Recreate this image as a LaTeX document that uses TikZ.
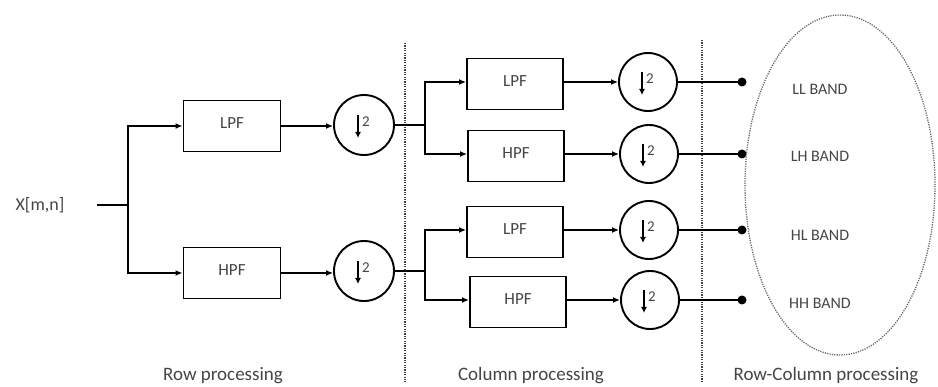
\documentclass[tikz,border=0pt]{standalone}
\usepackage{fontspec}
\setmainfont{Carlito}
\usetikzlibrary{arrows.meta,calc,shapes.geometric}
\definecolor{txt}{HTML}{454545}
\tikzset{
  wire/.style={line width=1.9pt,black},
  arr/.style={wire,-{Latex[length=7pt,width=6pt]}},
  filt/.style={draw,line width=1.9pt,minimum width=96pt,minimum height=51pt,inner sep=0pt,
    text=txt,font=\fontsize{17}{20}\selectfont,anchor=center},
  dec/.style={draw,circle,line width=1.9pt,minimum size=58pt,inner sep=0pt},
  lbl/.style={text=txt,font=\fontsize{19}{22}\selectfont,inner sep=0pt},
  bandlbl/.style={text=txt,font=\fontsize{16}{19}\selectfont,inner sep=0pt},
  sep/.style={line width=1.3pt,dash pattern=on 1.2pt off 1.2pt,black!75},
  outdot/.style={circle,fill=black,minimum size=9pt,inner sep=0pt},
}
\newcommand{\downtwo}[1]{%
  \draw[line width=1.5pt,-{Latex[length=6pt,width=6pt]}] ($(#1.center)+(-6,-10)$) -- ($(#1.center)+(-6,13)$);
  \node[text=txt,font=\fontsize{15}{17}\selectfont,inner sep=0pt] at ($(#1.center)+(2,-3)$) {2};
}
\begin{document}
\begin{tikzpicture}[x=1pt,y=-1pt]
\useasboundingbox (0,0) rectangle (938,387);
% separators
\coordinate (sepAtop) at (405,43);
\coordinate (sepAbot) at (405,382);
\coordinate (sepBtop) at (702,40);
\coordinate (sepBbot) at (702,382);
\draw[sep] (sepAtop) -- (sepAbot);
\draw[sep] (sepBtop) -- (sepBbot);
% input
\node[lbl,font=\fontsize{18}{21}\selectfont] (x) at (40,205) {X[m,n]};
\coordinate (in) at (97,205);
\coordinate (s1) at (128,205);
% row stage
\node[filt,minimum width=97pt] (lpf1) at (232,126) {\raisebox{6pt}{LPF}};
\node[filt,minimum width=97pt] (hpf1) at (232,273) {\raisebox{6pt}{HPF}};
\node[dec,minimum size=60pt] (d1) at (364,125) {};
\node[dec,minimum size=60pt] (d2) at (364,271) {};
\downtwo{d1}
\downtwo{d2}
\draw[wire] (in) -- (s1);
\draw[arr] (s1) |- (lpf1.west);
\draw[arr] (s1) |- (hpf1.west);
\draw[arr] (lpf1.east) -- (lpf1.east -| d1.west);
\draw[arr] (hpf1.east) -- (hpf1.east -| d2.west);
% column stage
\coordinate (s2) at (425,125);
\coordinate (s3) at (425,271);
\node[filt] (lpf2) at (515,84) {\raisebox{6pt}{LPF}};
\node[filt] (hpf2) at (516,156) {\raisebox{6pt}{HPF}};
\node[filt] (lpf3) at (515,232) {\raisebox{6pt}{LPF}};
\node[filt] (hpf3) at (518,302) {\raisebox{6pt}{HPF}};
\node[dec] (d3) at (648,82) {};
\node[dec] (d4) at (649,154) {};
\node[dec] (d5) at (649,230) {};
\node[dec] (d6) at (650,300) {};
\downtwo{d3}
\downtwo{d4}
\downtwo{d5}
\downtwo{d6}
\draw[wire] (d1.east) -- (s2);
\draw[wire] (d2.east) -- (s3);
\draw[arr] (s2) |- (lpf2.west |- d3);
\draw[arr] (s2) |- (hpf2.west |- d4);
\draw[arr] (s3) |- (lpf3.west |- d5);
\draw[arr] (s3) |- (hpf3.west |- d6);
\draw[arr] (lpf2.east |- d3) -- (d3.west);
\draw[arr] (hpf2.east |- d4) -- (d4.west);
\draw[arr] (lpf3.east |- d5) -- (d5.west);
\draw[arr] (hpf3.east |- d6) -- (d6.west);
% outputs
\node[outdot] (o1) at (742,82) {};
\node[outdot] (o2) at (742,154) {};
\node[outdot] (o3) at (742,230) {};
\node[outdot] (o4) at (742,300) {};
\draw[wire] (d3.east) -- (o1.center);
\draw[wire] (d4.east) -- (o2.center);
\draw[wire] (d5.east) -- (o3.center);
\draw[wire] (d6.east) -- (o4.center);
% ellipse
\node[draw,ellipse,sep,black!60,minimum width=190pt,minimum height=340pt,inner sep=0pt] (ell) at (840,185) {};
\node[bandlbl] (ll) at (820,89) {LL BAND};
\node[bandlbl] (lh) at (820,156) {LH BAND};
\node[bandlbl] (hl) at (820,235) {HL BAND};
\node[bandlbl] (hh) at (820,303) {HH BAND};
% captions
\node[lbl] (c1) at (223,376) {Row processing};
\node[lbl] (c2) at (531,376) {Column processing};
\node[lbl] (c3) at (826,376) {Row-Column processing};
\end{tikzpicture}
\end{document}
